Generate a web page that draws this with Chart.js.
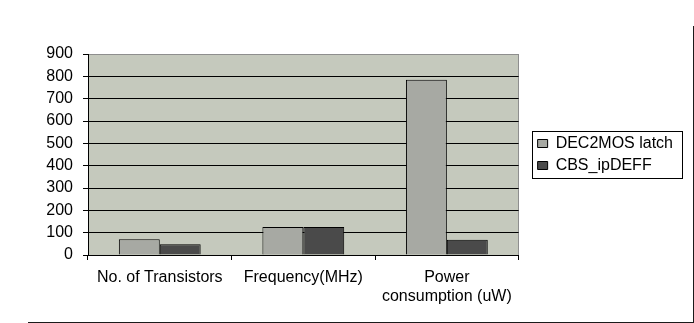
<!DOCTYPE html>
<html>
<head>
<meta charset="utf-8">
<script src="https://cdn.jsdelivr.net/npm/chart.js@4"></script>
<style>
html,body{margin:0;padding:0;background:#fff;}
#wrap{width:694px;height:323px;position:relative;}
</style>
</head>
<body>
<div id="wrap"><canvas id="c" width="694" height="323"></canvas></div>
<script>
const categories = ['No. of Transistors', 'Frequency(MHz)', ['Power', 'consumption (uW)']];
const seriesNames = ['DEC2MOS latch', 'CBS_ipDEFF'];
const dec2mosLatch = [70, 125, 785];
const cbsIpDeff = [48, 125, 68];
const yMin = 0, yMax = 900, yStep = 100;

const FONT = {family: '"Liberation Sans", Arial, sans-serif', size: 16};
const LEGEND_GAP = 13;

const decorPlugin = {
  id: 'decor',
  afterLayout(chart) {
    const lg = chart.legend;
    if (lg) { lg.left += LEGEND_GAP; lg.right += LEGEND_GAP; }
  },
  beforeDraw(chart) {
    const {ctx, chartArea: a} = chart;
    ctx.save();
    ctx.fillStyle = '#fff';
    ctx.fillRect(0, 0, chart.width, chart.height);
    ctx.fillStyle = '#c5c9bd';
    ctx.fillRect(a.left, a.top, a.right - a.left, a.bottom - a.top);
    ctx.strokeStyle = '#8e8e8e';
    ctx.lineWidth = 1;
    ctx.beginPath();
    ctx.moveTo(Math.round(a.right) - 0.5, a.top);
    ctx.lineTo(Math.round(a.right) - 0.5, a.bottom);
    ctx.stroke();
    ctx.restore();
  },
  afterDraw(chart) {
    const {ctx} = chart;
    ctx.save();
    const lg = chart.legend;
    if (lg && lg.legendHitBoxes && lg.legendHitBoxes.length) {
      const hb = lg.legendHitBoxes;
      const x1 = Math.round(hb[0].left - 6) + 0.5;
      const y1 = Math.round(hb[0].top - 4.5) + 0.5;
      const last = hb[hb.length - 1];
      const x2 = Math.round(lg.right - 1.5) + 0.5;
      const y2 = Math.round(last.top + last.height + 4.5) + 0.5;
      ctx.strokeStyle = '#000';
      ctx.lineWidth = 1;
      ctx.strokeRect(x1, y1, x2 - x1, y2 - y1);
    }
    ctx.strokeStyle = '#1a1a1a';
    ctx.lineWidth = 1;
    ctx.beginPath();
    ctx.moveTo(chart.width - 0.5, 26);
    ctx.lineTo(chart.width - 0.5, chart.height - 0.5);
    ctx.moveTo(28, chart.height - 0.5);
    ctx.lineTo(chart.width, chart.height - 0.5);
    ctx.stroke();
    ctx.restore();
  }
};

new Chart(document.getElementById('c'), {
  type: 'bar',
  data: {
    labels: categories,
    datasets: [
      {label: seriesNames[0], data: dec2mosLatch, backgroundColor: '#a7a9a3', borderColor: '#000', borderWidth: 1,
       categoryPercentage: 0.57, barPercentage: 1.0},
      {label: seriesNames[1], data: cbsIpDeff, backgroundColor: '#4a4a4a', borderColor: '#000', borderWidth: 1,
       categoryPercentage: 0.57, barPercentage: 1.0}
    ]
  },
  options: {
    responsive: false,
    animation: false,
    devicePixelRatio: 1,
    layout: {padding: {top: 54, right: 24, bottom: 0, left: 0}},
    plugins: {
      tooltip: {enabled: false},
      legend: {
        position: 'right',
        fullSize: false,
        labels: {
          boxWidth: 10, boxHeight: 8, padding: 6,
          color: '#000', font: FONT
        }
      }
    },
    scales: {
      x: {
        grid: {display: true, drawOnChartArea: false, drawTicks: true, tickLength: 5, color: '#000', tickColor: '#000'},
        border: {display: true, color: '#000'},
        ticks: {color: '#000', font: FONT, padding: 8, autoSkip: false, maxRotation: 0, minRotation: 0},
        afterFit(s) { s.height = 68; }
      },
      y: {
        min: yMin, max: yMax,
        grid: {
          color: (c) => (c.tick && c.tick.value === yMax) ? '#8e8e8e' : '#000',
          tickColor: '#000', tickLength: 5, lineWidth: 1
        },
        border: {display: true, color: '#000'},
        ticks: {stepSize: yStep, color: '#000', font: FONT, padding: 10},
        afterFit(s) { s.width = 88; }
      }
    }
  },
  plugins: [decorPlugin]
});
</script>
</body>
</html>
